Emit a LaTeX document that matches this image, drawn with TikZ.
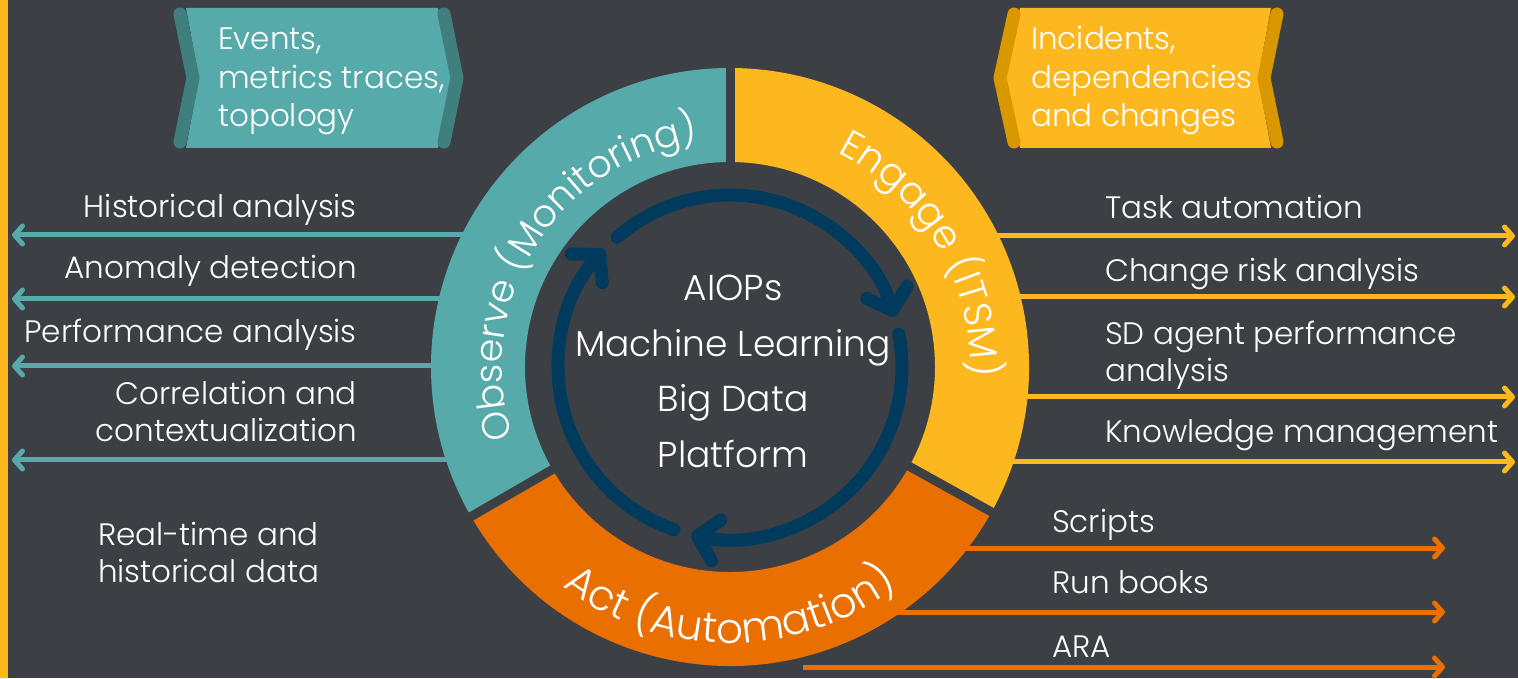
\documentclass[tikz,border=0pt]{standalone}
\usepackage{fontspec}
\setmainfont{Poppins}[UprightFont={* Light}]
\usetikzlibrary{arrows.meta,calc,decorations.text}

\definecolor{bgdark}{HTML}{3C4045}
\definecolor{obsteal}{HTML}{56AAAA}
\definecolor{obstealdk}{HTML}{3F7F7E}
\definecolor{engyellow}{HTML}{FDB71F}
\definecolor{engyellowdk}{HTML}{D99700}
\definecolor{actorange}{HTML}{E96F00}
\definecolor{loopnavy}{HTML}{003A5D}

\tikzset{
  listtext/.style={text=white, inner sep=0pt, font=\fontsize{31}{37}\selectfont},
  bannertext/.style={listtext, font=\fontsize{31}{38.5}\selectfont, align=left, anchor=base west},
  flowarrow/.style={line width=5pt, -{Straight Barb[length=8pt,width=18pt,line cap=round,line join=round]}},
  banderole/.style={line width=13pt, line cap=round, line join=round},
  loopline/.style={loopnavy, line width=13pt, line cap=round,
    -{Straight Barb[length=19pt,width=42pt,line cap=round,line join=round]}},
  ringlabel/.style n args={2}{decorate, decoration={text along path, text align=center,
    text color=white, text={|\fontsize{#1}{50}\selectfont|#2}}},
}

\begin{document}
\begin{tikzpicture}[x=1pt,y=1pt]
  \useasboundingbox (0,0) rectangle (1518,678);
  \pgfmathsetmacro{\rout}{299}
  \pgfmathsetmacro{\rin}{205}
  \coordinate (C) at (730,311);

  \fill[bgdark] (0,0) rectangle (1518,678);
  \fill[engyellow] (0,0) rectangle (8,678);

  % banners on top (multi-line nodes sit on their last line)
  \fill[obsteal] (186,670) -- (199,600) -- (186,530) -- (438,530) -- (451,600) -- (438,670) -- cycle;
  \draw[banderole, obstealdk] (180,664) -- (193,600) -- (180,536);
  \draw[banderole, obstealdk] (444,664) -- (457,600) -- (444,536);
  \node[bannertext] (inobs) at (218,551) {Events,\\metrics traces,\\topology};

  \fill[engyellow] (1020,670) -- (1006,600) -- (1020,530) -- (1271,530) -- (1258,600) -- (1271,670) -- cycle;
  \draw[banderole, engyellowdk] (1014,664) -- (1000,600) -- (1014,536);
  \draw[banderole, engyellowdk] (1277,664) -- (1264,600) -- (1277,536);
  \node[bannertext] (ineng) at (1031,551) {Incidents,\\dependencies\\and changes};

  % outputs, left
  \foreach \i/\yb/\ya/\txt in {1/460/443/Historical analysis, 2/399/379/Anomaly detection,
      3/335/312/Performance analysis, 4/236/218/{Correlation and\\contextualization}} {
    \node[listtext, anchor=base east, align=right] (obs\i) at (357,\yb) {\txt};
    \coordinate (obsfrom\i) at (480,\ya);
    \coordinate (obsto\i) at (12,\ya);
    \draw[flowarrow, obsteal] (obsfrom\i) -- (obsto\i);
  }
  \node[listtext, anchor=base west, align=left] (rtdata) at (98,96) {Real-time and\\historical data};

  % outputs, right
  \foreach \i/\yb/\ya/\txt in {1/459/442/Task automation, 2/396/381/Change risk analysis,
      3/296/281/{SD agent performance\\analysis}, 4/235/216/Knowledge management} {
    \node[listtext, anchor=base west, align=left] (eng\i) at (1105,\yb) {\txt};
    \coordinate (engfrom\i) at (985,\ya);
    \coordinate (engto\i) at (1515,\ya);
    \draw[flowarrow, engyellow] (engfrom\i) -- (engto\i);
  }
  \foreach \i/\yb/\ya/\xa/\txt in {1/146/130/900/Scripts, 2/85/66/850/Run books, 3/21/11/803/ARA} {
    \node[listtext, anchor=base west] (act\i) at (1052,\yb) {\txt};
    \coordinate (actfrom\i) at (\xa,\ya);
    \coordinate (actto\i) at (1445,\ya);
    \draw[flowarrow, actorange] (actfrom\i) -- (actto\i);
  }

  % the ring
  \fill[obsteal] ($(C)+(90:\rout)$) arc[start angle=90,end angle=210,radius=\rout]
    -- ($(C)+(210:\rin)$) arc[start angle=210,end angle=90,radius=\rin] -- cycle;
  \fill[engyellow] ($(C)+(-29:\rout)$) arc[start angle=-29,end angle=90,radius=\rout]
    -- ($(C)+(90:\rin)$) arc[start angle=90,end angle=-29,radius=\rin] -- cycle;
  \fill[actorange] ($(C)+(210:\rout)$) arc[start angle=210,end angle=331,radius=\rout]
    -- ($(C)+(331:\rin)$) arc[start angle=331,end angle=210,radius=\rin] -- cycle;
  \foreach \a in {90,210,331}
    \draw[bgdark, line width=9pt] ($(C)+(\a:{\rin-5})$) -- ($(C)+(\a:{\rout+5})$);

  \path[ringlabel={38}{Observe (Monitoring)}] ($(C)+(218:228)$) arc[start angle=218,end angle=78,radius=228];
  \path[ringlabel={39}{Engage (ITSM)}] ($(C)+(100:240)$) arc[start angle=100,end angle=-39,radius=240];
  \path[ringlabel={42}{Act (Automation)}] ($(C)+(200:276)$) arc[start angle=200,end angle=340,radius=276];

  % inner loop
  \foreach \a in {0,120,240}
    \draw[loopline] ($(C)+({131-\a}:172)$) arc[start angle={131-\a},end angle={17-\a},radius=172];

  \node[listtext, font=\fontsize{36}{55.4}\selectfont, align=center, anchor=base] (core) at (733,211)
    {AIOPs\\Machine Learning\\Big Data\\Platform};
\end{tikzpicture}
\end{document}
